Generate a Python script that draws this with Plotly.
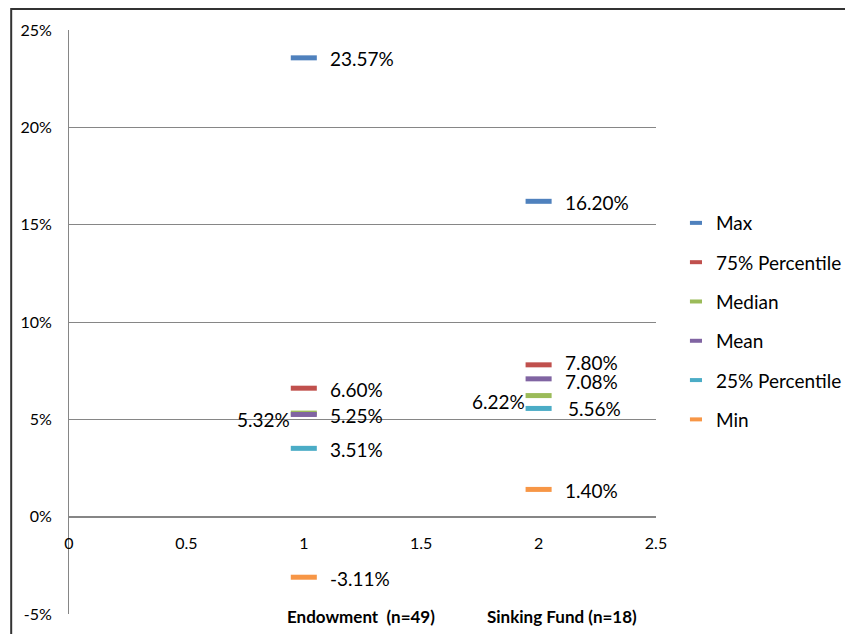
import plotly.graph_objects as go

categories = ["Endowment (n=49)", "Sinking Fund (n=18)"]
cat_x = [1, 2]
series_names = ["Max", "75% Percentile", "Median", "Mean", "25% Percentile", "Min"]
max_vals = [0.2357, 0.1620]
p75_vals = [0.0660, 0.0780]
median_vals = [0.0532, 0.0622]
mean_vals = [0.0525, 0.0708]
p25_vals = [0.0351, 0.0556]
min_vals = [-0.0311, 0.0140]
colors = ["#4F81BD", "#C0504D", "#9BBB59", "#8064A2", "#4BACC6", "#F79646"]
y_ticks = [-0.05, 0, 0.05, 0.10, 0.15, 0.20, 0.25]
y_tick_text = ["-5%", "0%", "5%", "10%", "15%", "20%", "25%"]
x_ticks = [0, 0.5, 1, 1.5, 2, 2.5]
x_tick_text = ["0", "0.5", "1", "1.5", "2", "2.5"]

all_series = [max_vals, p75_vals, median_vals, mean_vals, p25_vals, min_vals]
FONT = "Lato, Carlito, Calibri, 'Open Sans', sans-serif"
LABEL_SIZE = 19

fig = go.Figure()
for name, vals, col in zip(series_names, all_series, colors):
    fig.add_trace(go.Scatter(
        x=cat_x, y=vals, name=name, mode="markers", legendgroup=name, showlegend=False,
        marker=dict(symbol="line-ew", size=18.6, color=col,
                    line=dict(width=5, color=col)),
        cliponaxis=False,
    ))
# legend entries (short thick dashes like the reference)
for name, col in zip(series_names, colors):
    fig.add_trace(go.Scatter(
        x=[None], y=[None], name=name, mode="markers", legendgroup=name, showlegend=True,
        marker=dict(symbol="line-ew", size=8.6, color=col, line=dict(width=4, color=col)),
    ))

offsets = {
    ("75% Percentile", 2): (24, 2),
    ("Mean", 2): (24, -3),
    ("25% Percentile", 2): (27, 0),
}
annotations = []
for name, vals in zip(series_names, all_series):
    for xv, v in zip(cat_x, vals):
        if name == "Median":
            annotations.append(dict(x=xv, y=v, xref="x", yref="y", text=f"{v*100:.2f}%",
                                    showarrow=False, xanchor="right", xshift=-12, yshift=-6,
                                    font=dict(size=LABEL_SIZE, color="#000", family=FONT)))
        else:
            xs, ys = offsets.get((name, xv), (24, -1))
            annotations.append(dict(x=xv, y=v, xref="x", yref="y", text=f"{v*100:.2f}%",
                                    showarrow=False, xanchor="left", xshift=xs, yshift=ys,
                                    font=dict(size=LABEL_SIZE, color="#000", family=FONT)))

annotations.append(dict(x=1.244, y=-0.05, xref="x", yref="y", text="<b>Endowment  (n=49)</b>",
                        showarrow=False, xanchor="center", yanchor="middle", yshift=-2,
                        font=dict(size=17, color="#000", family=FONT)))
annotations.append(dict(x=2.10, y=-0.05, xref="x", yref="y", text="<b>Sinking Fund (n=18)</b>",
                        showarrow=False, xanchor="center", yanchor="middle", yshift=-2,
                        font=dict(size=17, color="#000", family=FONT)))

fig.update_layout(
    width=853, height=634,
    margin=dict(l=59, r=205, t=22, b=28),
    paper_bgcolor="white", plot_bgcolor="white",
    font=dict(family=FONT, color="#000"),
    showlegend=True,
    legend=dict(x=1.034, y=0.702, xanchor="left", yanchor="top",
                font=dict(size=LABEL_SIZE, family=FONT), itemsizing="trace",
                tracegroupgap=11.6, itemwidth=30, bgcolor="rgba(0,0,0,0)"),
    xaxis=dict(range=[0, 2.5], tickvals=x_ticks, ticktext=x_tick_text,
               showgrid=False, zeroline=False, showline=True, linecolor="#868686", linewidth=1,
               anchor="free", position=1/6, ticks="", tickfont=dict(size=16, family=FONT),
               ticklabelstandoff=12),
    yaxis=dict(range=[-0.05, 0.25], tickvals=y_ticks, ticktext=y_tick_text,
               showgrid=True, gridcolor="#868686", gridwidth=1, zeroline=False,
               showline=True, linecolor="#868686", linewidth=1,
               ticks="inside", ticklen=13, tickcolor="#868686",
               tickfont=dict(size=16, family=FONT), ticklabelstandoff=13),
    annotations=annotations,
    shapes=[dict(type="rect", xref="paper", yref="paper",
                 x0=(1 - 59) / 589, x1=(900 - 59) / 589,
                 y0=(606 - 700) / 584, y1=(606 - 1) / 584,
                 line=dict(color="#333", width=2), fillcolor="rgba(0,0,0,0)", layer="below")],
)

fig.write_html("out.html")
